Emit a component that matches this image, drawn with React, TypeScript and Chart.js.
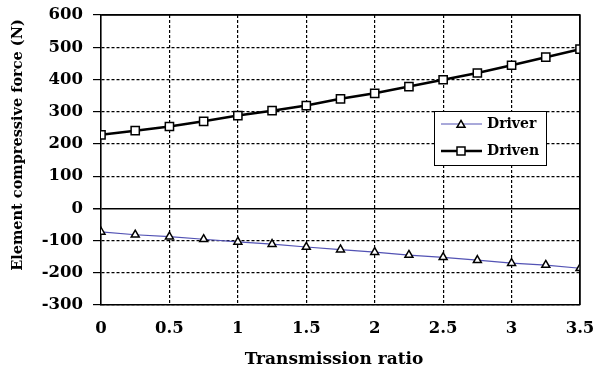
import React, { useEffect, useRef } from "react";
import { Chart, registerables } from "chart.js";

Chart.register(...registerables);

const ratios = [0, 0.25, 0.5, 0.75, 1, 1.25, 1.5, 1.75, 2, 2.25, 2.5, 2.75, 3, 3.25, 3.5];
const driver = [-73, -82, -88, -96, -104, -111, -120, -128, -136, -145, -152, -161, -170, -176, -186];
const driven = [228, 241, 254, 270, 288, 303, 319, 340, 357, 378, 399, 420, 444, 469, 494];

const seriesNames = ["Driver", "Driven"];
const xTitle = "Transmission ratio";
const yTitle = "Element compressive force (N)";

const FONT = "'DejaVu Serif', serif";
const DRIVER_COLOR = "#5252b4";

function drawTriangle(ctx: CanvasRenderingContext2D, x: number, y: number, r: number) {
  ctx.beginPath();
  ctx.moveTo(x, y - r);
  ctx.lineTo(x + r * 0.866, y + r * 0.5);
  ctx.lineTo(x - r * 0.866, y + r * 0.5);
  ctx.closePath();
  ctx.fillStyle = "#ffffff";
  ctx.fill();
  ctx.strokeStyle = "#000";
  ctx.lineWidth = 1.5;
  ctx.stroke();
}

function drawSquare(ctx: CanvasRenderingContext2D, x: number, y: number, s: number) {
  ctx.beginPath();
  ctx.rect(x - s / 2, y - s / 2, s, s);
  ctx.fillStyle = "#ffffff";
  ctx.fill();
  ctx.strokeStyle = "#000";
  ctx.lineWidth = 1.5;
  ctx.stroke();
}

const extrasPlugin = {
  id: "extras",
  afterDraw(chart: any) {
    const ctx: CanvasRenderingContext2D = chart.ctx;
    const area = chart.chartArea;
    ctx.save();
    ctx.strokeStyle = "#000";
    ctx.lineWidth = 1.5;
    ctx.beginPath();
    ctx.moveTo(area.left, area.top);
    ctx.lineTo(area.right, area.top);
    ctx.lineTo(area.right, area.bottom);
    ctx.stroke();

    ctx.fillStyle = "#000";
    ctx.textAlign = "center";
    ctx.textBaseline = "middle";
    ctx.font = `bold 17px ${FONT}`;
    ctx.fillText(xTitle, 334, 360);
    ctx.save();
    ctx.font = `bold 14.5px ${FONT}`;
    ctx.translate(18, 145);
    ctx.rotate(-Math.PI / 2);
    ctx.fillText(yTitle, 0, 0);
    ctx.restore();

    const bx = 434, by = 111, bw = 112, bh = 54;
    ctx.fillStyle = "#ffffff";
    ctx.fillRect(bx, by, bw, bh);
    ctx.strokeStyle = "#000";
    ctx.lineWidth = 1;
    ctx.strokeRect(bx + 0.5, by + 0.5, bw, bh);

    const rows = [124, 151];
    ctx.strokeStyle = DRIVER_COLOR;
    ctx.lineWidth = 1;
    ctx.beginPath();
    ctx.moveTo(441, rows[0]);
    ctx.lineTo(482, rows[0]);
    ctx.stroke();
    drawTriangle(ctx, 461, rows[0] + 1, 4.6);
    ctx.strokeStyle = "#000";
    ctx.lineWidth = 2.5;
    ctx.beginPath();
    ctx.moveTo(441, rows[1]);
    ctx.lineTo(482, rows[1]);
    ctx.stroke();
    drawSquare(ctx, 461, rows[1], 8);

    ctx.fillStyle = "#000";
    ctx.font = `bold 14px ${FONT}`;
    ctx.textAlign = "left";
    ctx.textBaseline = "middle";
    ctx.fillText(seriesNames[0], 487, rows[0]);
    ctx.fillText(seriesNames[1], 487, rows[1]);
    ctx.restore();
  },
};

export default function App() {
  const ref = useRef<HTMLCanvasElement>(null);
  useEffect(() => {
    if (!ref.current) return;
    const chart = new Chart(ref.current, {
      type: "line",
      data: {
        datasets: [
          {
            label: seriesNames[0],
            data: ratios.map((r, i) => ({ x: r, y: driver[i] })),
            borderColor: DRIVER_COLOR,
            borderWidth: 1.2,
            pointStyle: "triangle",
            pointRadius: 4.6,
            pointBorderColor: "#000",
            pointBackgroundColor: "#fff",
            pointBorderWidth: 1.5,
            tension: 0,
          },
          {
            label: seriesNames[1],
            data: ratios.map((r, i) => ({ x: r, y: driven[i] })),
            borderColor: "#000",
            borderWidth: 2.5,
            pointStyle: "rect",
            pointRadius: 5.8,
            pointBorderColor: "#000",
            pointBackgroundColor: "#fff",
            pointBorderWidth: 1.5,
            tension: 0,
          },
        ],
      },
      options: {
        animation: false,
        responsive: false,
        maintainAspectRatio: false,
        layout: { padding: { left: 0, right: 13, top: 15, bottom: 0 } },
        plugins: { legend: { display: false }, tooltip: { enabled: false } },
        scales: {
          x: {
            type: "linear",
            min: 0,
            max: 3.5,
            afterFit: (s: any) => {
              s.height = 67;
              s.paddingLeft = 0;
              s.paddingRight = 0;
            },
            ticks: {
              stepSize: 0.5,
              padding: 14,
              color: "#000",
              font: { family: FONT, weight: "bold", size: 16.5 },
              callback: (v: any) => String(v),
            },
            grid: {
              color: "#000",
              lineWidth: 1.2,
              drawTicks: false,
            },
            border: {
              display: true,
              color: "#000",
              width: 1.5,
              dash: (c: any) => (c.tick && (c.tick.value === 3.5 || c.tick.value === 0) ? [] : [3, 2]),
            },
          },
          y: {
            min: -300,
            max: 600,
            afterFit: (s: any) => {
              s.width = 101;
              s.paddingTop = 0;
              s.paddingBottom = 0;
            },
            ticks: {
              stepSize: 100,
              padding: 10,
              color: "#000",
              font: { family: FONT, weight: "bold", size: 16.5 },
            },
            grid: {
              color: "#000",
              lineWidth: (c: any) => (c.tick && c.tick.value === 0 ? 1.5 : 1.2),
              tickLength: 8,
              tickBorderDash: [],
            },
            border: {
              display: true,
              color: "#000",
              width: 1.5,
              dash: (c: any) => (c.tick && (c.tick.value === 0 || c.tick.value === 600) ? [] : [3, 2]),
            },
          },
        },
      },
      plugins: [extrasPlugin],
    });
    return () => chart.destroy();
  }, []);
  return (
    <div style={{ position: "fixed", left: 0, top: 0, width: 593, height: 372, background: "#fff" }}>
      <canvas ref={ref} width={593} height={372} style={{ width: 593, height: 372 }} />
    </div>
  );
}
